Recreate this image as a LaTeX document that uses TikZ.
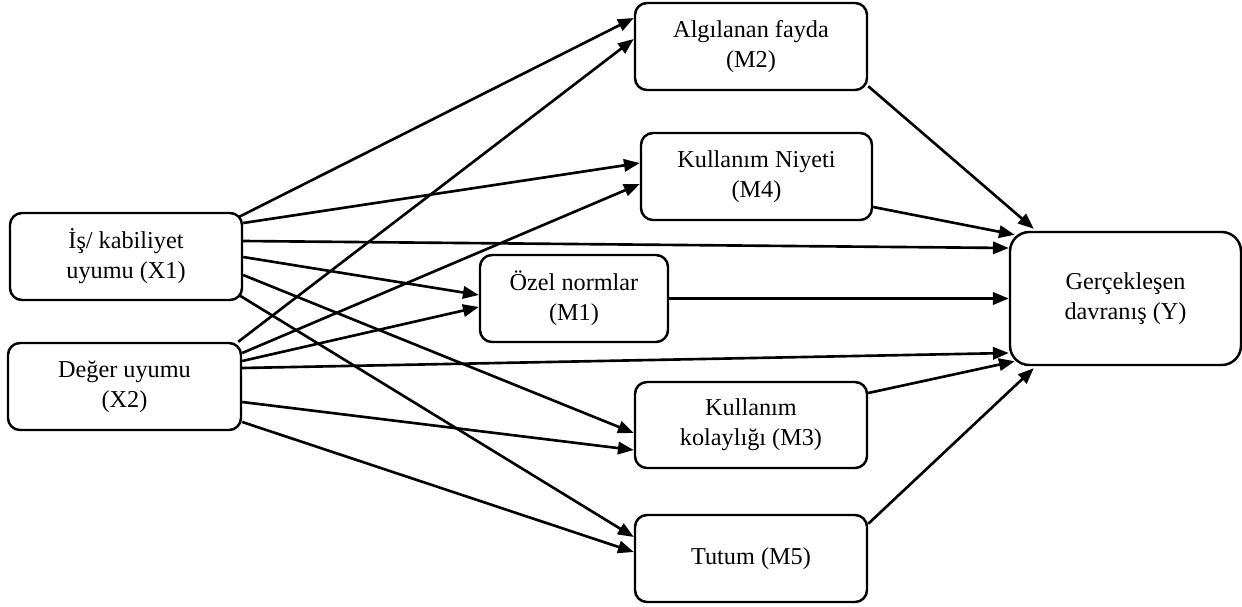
\documentclass[tikz,border=0pt]{standalone}
\usepackage{fontspec}
\setmainfont{Liberation Serif}
\usetikzlibrary{calc,arrows.meta}
\begin{document}
\begin{tikzpicture}[x=0.02cm,y=-0.02cm,
  box/.style={draw,line width=1.4pt,rounded corners=6.8pt,align=center,inner sep=0pt,
    font=\fontsize{13.8}{17}\selectfont},
  conn/.style={line width=1.5pt,-{Triangle[length=9pt,width=7pt]}}]
\useasboundingbox (0,0) rectangle (1242,606);
\node[box,minimum width=232*0.02cm,minimum height=87*0.02cm] (X1) at (126,256.5) {İş/ kabiliyet\\uyumu (X1)};
\node[box,minimum width=233*0.02cm,minimum height=87*0.02cm] (X2) at (124.5,386.5) {Değer uyumu\\(X2)};
\node[box,minimum width=232*0.02cm,minimum height=87*0.02cm] (M2) at (751,46.5) {Algılanan fayda\\(M2)};
\node[box,minimum width=231*0.02cm,minimum height=87*0.02cm] (M4) at (756.5,176.5) {Kullanım Niyeti\\(M4)};
\node[box,minimum width=188*0.02cm,minimum height=87*0.02cm] (M1) at (574,298.5) {Özel normlar\\(M1)};
\node[box,minimum width=232*0.02cm,minimum height=86*0.02cm] (M3) at (751,425) {Kullanım\\kolaylığı (M3)};
\node[box,minimum width=232*0.02cm,minimum height=87*0.02cm] (M5) at (751,558.5) {Tutum (M5)};
\node[box,rounded corners=11pt,minimum width=231*0.02cm,minimum height=133*0.02cm] (Y) at (1125.5,298.5) {Gerçekleşen\\davranış (Y)};
% X1 outputs
\draw[conn] ($(X1.north east)+(-4,5)$) -- ($(M2.west)+(0,-28.5)$);
\draw[conn] ($(X1.east)+(0,-33.5)$) -- ($(M4.west)+(0,-13.5)$);
\draw[conn] ($(X1.east)+(0,-15.5)$) -- ($(Y.west)+(0,-50.5)$);
\draw[conn] ($(X1.east)+(0,0.5)$) -- ($(M1.west)+(0,-3.5)$);
\draw[conn] ($(X1.east)+(0,18.5)$) -- ($(M3.west)+(0,8)$);
\draw[conn] ($(X1.south east)+(-4,-6)$) -- ($(M5.west)+(0,-21.5)$);
% X2 outputs
\draw[conn] ($(X2.north east)+(-4,0)$) -- ($(M2.west)+(0,-7.5)$);
\draw[conn] ($(X2.east)+(0,-33.5)$) -- ($(M4.west)+(0,7.5)$);
\draw[conn] ($(X2.east)+(0,-25.5)$) -- ($(M1.west)+(0,8.5)$);
\draw[conn] ($(X2.east)+(0,-18.5)$) -- ($(Y.west)+(0,54.5)$);
\draw[conn] ($(X2.east)+(0,15.5)$) -- ($(M3.west)+(0,25)$);
\draw[conn] ($(X2.east)+(0,35.5)$) -- ($(M5.west)+(0,-6.5)$);
% mediators to Y
\draw[conn] ($(M2.south east)+(0,-5)$) -- ($(Y.north west)+(25,-2)$);
\draw[conn] ($(M4.east)+(0,30.5)$) -- ($(Y.north west)+(6,4)$);
\draw[conn] (M1.east) -- (Y.west);
\draw[conn] ($(M3.east)+(0,-32)$) -- ($(Y.south west)+(6,-5)$);
\draw[conn] ($(M5.north east)+(0,10)$) -- ($(Y.south west)+(25,2)$);
\end{tikzpicture}
\end{document}
